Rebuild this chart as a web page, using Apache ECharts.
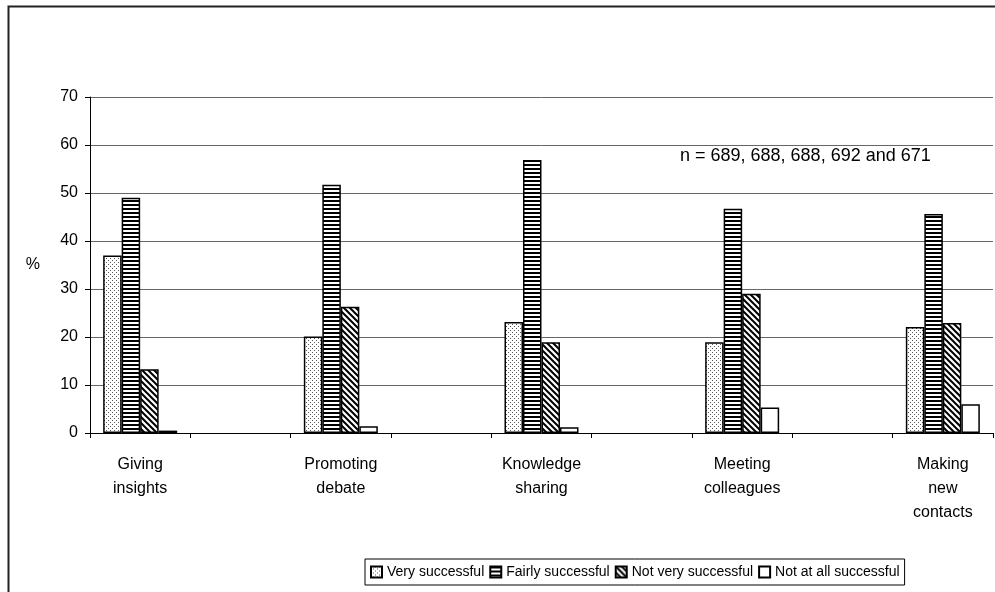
<!DOCTYPE html>
<html lang="en">
<head>
<meta charset="UTF-8">
<title>Success of the event</title>
<script src="https://cdn.jsdelivr.net/npm/echarts@6/dist/echarts.min.js"></script>
<style>
    html, body { margin: 0; padding: 0; background: #fff; }
    #container { width: 995px; height: 592px; }
</style>
</head>
<body>
<div id="container"></div>
<script type="text/javascript">
    // data
    var categories = ['Giving\ninsights', 'Promoting\ndebate', 'Knowledge\nsharing', 'Meeting\ncolleagues', 'Making\nnew\ncontacts'];
    var verySuccessful = [37.0, 20.1, 23.1, 18.9, 22.1];
    var fairlySuccessful = [49.0, 51.7, 56.9, 46.7, 45.6];
    var notVerySuccessful = [13.3, 26.3, 18.9, 29.0, 22.9];
    var notAtAllSuccessful = [0.5, 1.4, 1.2, 5.3, 6.0];
    var seriesNames = ['Very successful', 'Fairly successful', 'Not very successful', 'Not at all successful'];
    var noteText = 'n = 689, 688, 688, 692 and 671';

    // the original leaves an empty slot between each group
    function spread(arr, empty) {
        var out = [];
        arr.forEach(function (v, i) {
            out.push(v);
            if (i < arr.length - 1) out.push(empty);
        });
        return out;
    }

    // fill patterns
    function makePattern(w, h, draw) {
        var c = document.createElement('canvas');
        c.width = w;
        c.height = h;
        var ctx = c.getContext('2d');
        ctx.fillStyle = '#fff';
        ctx.fillRect(0, 0, w, h);
        ctx.fillStyle = '#000';
        ctx.strokeStyle = '#000';
        draw(ctx);
        return { image: c, repeat: 'repeat' };
    }
    var dots = makePattern(4, 4, function (ctx) {
        ctx.fillStyle = '#555';
        ctx.fillRect(0, 0, 1, 1);
        ctx.fillRect(2, 2, 1, 1);
    });
    var hlines = makePattern(4, 4, function (ctx) {
        ctx.fillRect(0, 0, 4, 2);
    });
    var diag = makePattern(6, 6, function (ctx) {
        ctx.lineWidth = 2;
        ctx.beginPath();
        ctx.moveTo(-1, -1); ctx.lineTo(7, 7);
        ctx.moveTo(-4, 2); ctx.lineTo(2, 8);
        ctx.moveTo(2, -4); ctx.lineTo(8, 2);
        ctx.stroke();
    });
    var fills = [dots, hlines, diag, '#fff'];
    var values = [verySuccessful, fairlySuccessful, notVerySuccessful, notAtAllSuccessful];

    var font = 'Liberation Sans, Arial, sans-serif';
    var dom = document.getElementById('container');
    var myChart = echarts.init(dom, null, { renderer: 'canvas' });

    var series = seriesNames.map(function (name, i) {
        return {
            name: name,
            type: 'bar',
            barWidth: 18.5,
            barGap: 0,
            data: spread(values[i], '-'),
            itemStyle: { color: fills[i], borderColor: '#000', borderWidth: 1.5 }
        };
    });

    var option = {
        animation: false,
        textStyle: { fontFamily: font },
        graphic: [{
            type: 'rect',
            left: 6, top: 4,
            shape: { width: 1000, height: 620 },
            style: { fill: 'none', stroke: '#222', lineWidth: 2 }
        }, {
            type: 'text',
            left: 680, top: 147,
            style: { text: noteText, font: '18px ' + font, fill: '#000' }
        }],
        legend: {
            data: seriesNames,
            left: 365,
            top: 559,
            icon: 'rect',
            itemWidth: 11,
            itemHeight: 11,
            itemGap: 5,
            padding: [6, 5, 6, 5],
            borderColor: '#000',
            borderWidth: 1,
            textStyle: {
                fontSize: 14, color: '#000'
            }
        },
        grid: { left: 90, right: 2, top: 97, bottom: 159 },
        xAxis: {
            type: 'category',
            data: spread(categories, ''),
            axisLine: { lineStyle: { color: '#000', width: 1 } },
            axisTick: { show: true, length: 5, lineStyle: { color: '#000' } },
            axisLabel: { interval: 0, color: '#000', fontSize: 16, lineHeight: 24, margin: 20 },
            splitLine: { show: false }
        },
        yAxis: {
            type: 'value',
            min: 0, max: 70, interval: 10,
            name: '%',
            nameLocation: 'middle',
            nameRotate: 0,
            nameGap: 50,
            nameTextStyle: { fontSize: 16, color: '#000' },
            axisLine: { show: true, lineStyle: { color: '#000' } },
            axisTick: { show: true, length: 5, lineStyle: { color: '#000' } },
            axisLabel: { color: '#000', fontSize: 16, margin: 12 },
            splitLine: { lineStyle: { color: '#666', width: 1 } }
        },
        series: series
    };
    myChart.setOption(option);
</script>
</body>
</html>
